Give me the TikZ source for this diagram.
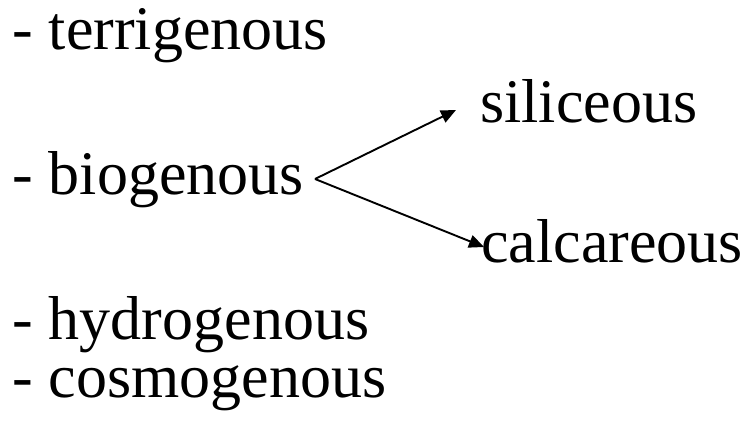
\documentclass[tikz,border=0pt]{standalone}
\usepackage{fontspec}
\setmainfont{Liberation Serif}
\usetikzlibrary{arrows.meta}
\begin{document}
\begin{tikzpicture}[x=1pt,y=1pt,
  lbl/.style={anchor=base west,inner sep=0pt,font=\fontsize{62}{70}\selectfont},
  branch/.style={line width=1.9pt,-{Triangle[length=15pt,width=13pt]}}]
\useasboundingbox (0,0) rectangle (747,422);
\node[lbl] (terr) at (12.5,372) {- terrigenous};
\node[lbl] (bio)  at (12.5,227) {- biogenous};
\node[lbl] (hyd)  at (12.5,82) {- hydrogenous};
\node[lbl] (cos)  at (12.5,24) {- cosmogenous};
\node[lbl] (sil)  at (480,299) {siliceous};
\node[lbl] (cal)  at (481,159) {calcareous};
\coordinate (fork) at (315,243);
\coordinate (silend) at (456,312);
\coordinate (calend) at (484,175);
\draw[branch] (fork) -- (silend);
\draw[branch] (fork) -- (calend);
\end{tikzpicture}
\end{document}
